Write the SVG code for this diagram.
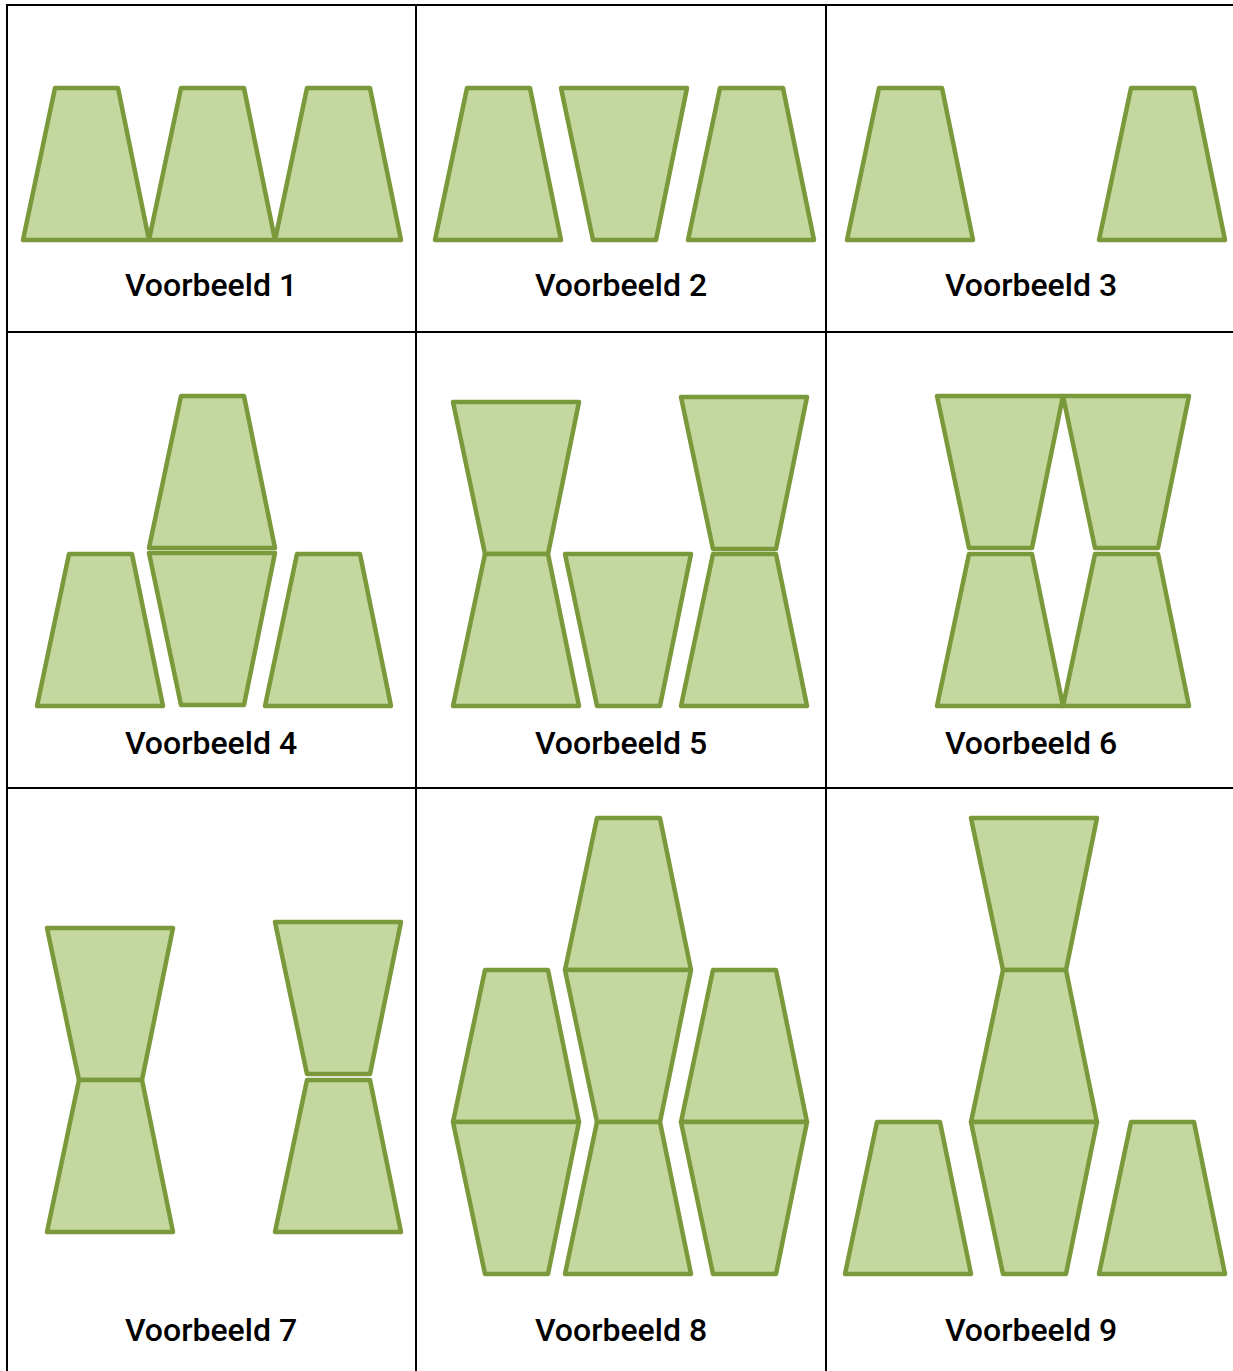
<svg xmlns="http://www.w3.org/2000/svg" xmlns:xlink="http://www.w3.org/1999/xlink" width="1233" height="1371" viewBox="0 0 1233 1371">
<style>
.t{fill:#c4d79f;stroke:#7a993a;stroke-width:4.5;stroke-linejoin:round}
.g{stroke:#000;stroke-width:2;fill:none}
.l{font-family:Roboto,"Liberation Sans",sans-serif;font-size:32px;font-weight:500;fill:#000;text-anchor:middle}
</style>
<defs>
<polygon id="u" class="t" points="0,152 32,0 95,0 126,152"/>
<polygon id="d" class="t" points="0,0 126,0 95,152 32,152"/>
</defs>
<rect width="1233" height="1371" fill="#fff"/>
<g id="grid">
<line class="g" x1="7" y1="5" x2="7" y2="1371"/>
<line class="g" x1="416" y1="5" x2="416" y2="1371"/>
<line class="g" x1="826" y1="5" x2="826" y2="1371"/>
<line class="g" x1="6" y1="5" x2="1233" y2="5"/>
<line class="g" x1="6" y1="332" x2="1233" y2="332"/>
<line class="g" x1="6" y1="788" x2="1233" y2="788"/>
</g>
<g id="v1">
<use href="#u" x="23" y="88"/><use href="#u" x="149" y="88"/><use href="#u" x="275" y="88"/>
<text class="l" x="211" y="296">Voorbeeld 1</text>
</g>
<g id="v2">
<use href="#u" x="435" y="88"/><use href="#d" x="561" y="88"/><use href="#u" x="688" y="88"/>
<text class="l" x="621" y="296">Voorbeeld 2</text>
</g>
<g id="v3">
<use href="#u" x="847" y="88"/><use href="#u" x="1099" y="88"/>
<text class="l" x="1031" y="296">Voorbeeld 3</text>
</g>
<g id="v4">
<use href="#u" x="149" y="396"/><use href="#d" x="149" y="553"/><use href="#u" x="37" y="554"/><use href="#u" x="265" y="554"/>
<text class="l" x="211" y="754">Voorbeeld 4</text>
</g>
<g id="v5">
<use href="#d" x="453" y="402"/><use href="#u" x="453" y="554"/><use href="#d" x="565" y="554"/><use href="#d" x="681" y="397"/><use href="#u" x="681" y="554"/>
<text class="l" x="621" y="754">Voorbeeld 5</text>
</g>
<g id="v6">
<use href="#d" x="937" y="396"/><use href="#d" x="1063" y="396"/><use href="#u" x="937" y="554"/><use href="#u" x="1063" y="554"/>
<text class="l" x="1031" y="754">Voorbeeld 6</text>
</g>
<g id="v7">
<use href="#d" x="47" y="928"/><use href="#u" x="47" y="1080"/><use href="#d" x="275" y="922"/><use href="#u" x="275" y="1080"/>
<text class="l" x="211" y="1341">Voorbeeld 7</text>
</g>
<g id="v8">
<use href="#u" x="565" y="818"/><use href="#d" x="565" y="970"/><use href="#u" x="565" y="1122"/><use href="#u" x="453" y="970"/><use href="#d" x="453" y="1122"/><use href="#u" x="681" y="970"/><use href="#d" x="681" y="1122"/>
<text class="l" x="621" y="1341">Voorbeeld 8</text>
</g>
<g id="v9">
<use href="#d" x="971" y="818"/><use href="#u" x="971" y="970"/><use href="#d" x="971" y="1122"/><use href="#u" x="845" y="1122"/><use href="#u" x="1099" y="1122"/>
<text class="l" x="1031" y="1341">Voorbeeld 9</text>
</g>
</svg>
